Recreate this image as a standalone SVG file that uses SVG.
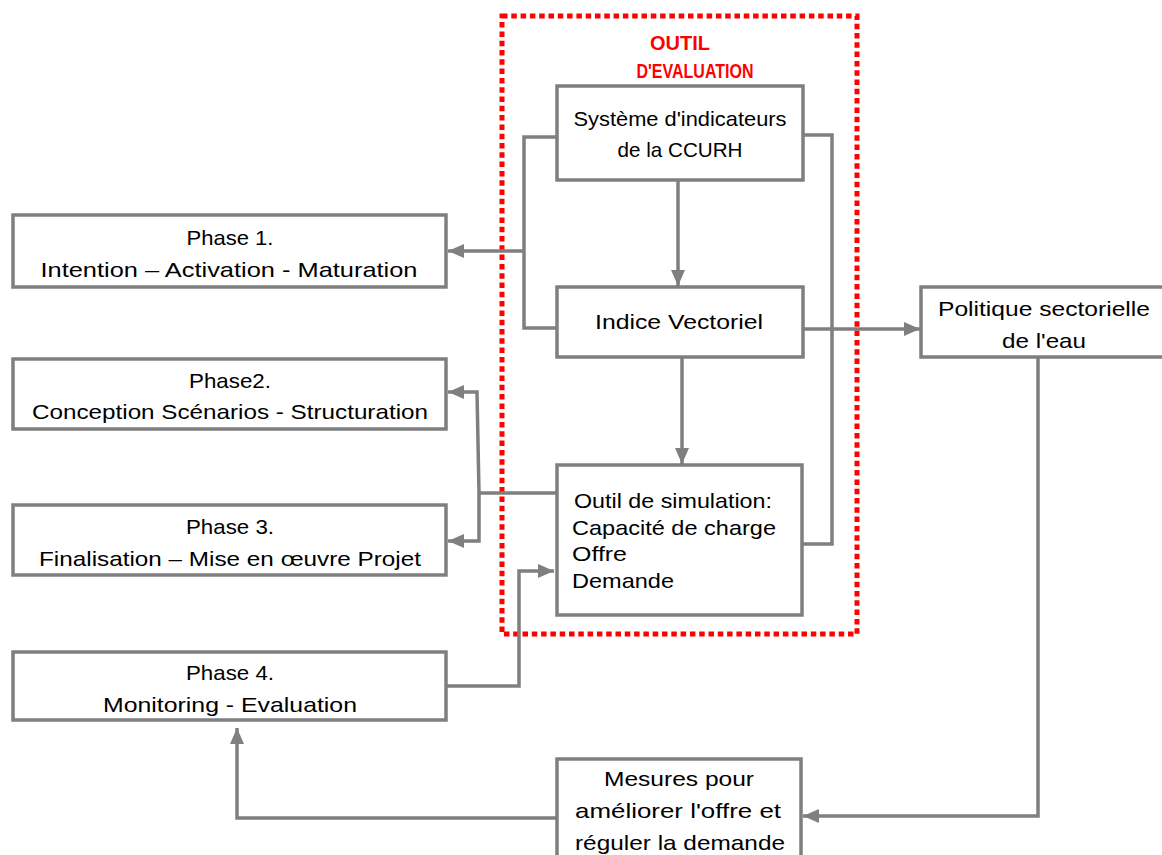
<svg xmlns="http://www.w3.org/2000/svg" width="1162" height="855" viewBox="0 0 1162 855">
<style>
.box{fill:#fff;stroke:#7f7f7f;stroke-width:3.5}
.t{font-family:"Liberation Sans",Arial,sans-serif;font-size:21px;fill:#000;text-anchor:middle}
.tl{font-family:"Liberation Sans",Arial,sans-serif;font-size:21px;fill:#000}
.c{fill:none;stroke:#7f7f7f;stroke-width:3.5}
.red{font-family:"Liberation Sans",Arial,sans-serif;font-size:20px;font-weight:bold;fill:#ff0000;text-anchor:middle}
</style>
<defs>
<marker id="ah" markerUnits="userSpaceOnUse" markerWidth="17" markerHeight="17" viewBox="0 0 17 17" refX="16" refY="8.5" orient="auto">
<path d="M0,1.5 L16,8.5 L0,15.5 Z" fill="#7f7f7f"/>
</marker>
</defs>
<rect width="1162" height="855" fill="#fff"/>
<g id="outil-frame">
<rect x="502" y="16" width="355" height="618" fill="none" stroke="#ff0000" stroke-width="5" stroke-dasharray="5.5 3.8"/>
<text class="red" x="680" y="50" textLength="60" lengthAdjust="spacingAndGlyphs">OUTIL</text>
<text class="red" x="695" y="78" textLength="117" lengthAdjust="spacingAndGlyphs">D'EVALUATION</text>
</g>
<g id="connectors">
<path class="c" d="M557,137 H524 V328 H557"/>
<path class="c" d="M524,251 H448" marker-end="url(#ah)"/>
<path class="c" d="M803,135 H832 V544 H801"/>
<path class="c" d="M678,180 V286" marker-end="url(#ah)"/>
<path class="c" d="M682,357 V464" marker-end="url(#ah)"/>
<path class="c" d="M803,329 H920" marker-end="url(#ah)"/>
<path class="c" d="M557,493 H479"/>
<path class="c" d="M479,493 L477,392 H448" marker-end="url(#ah)"/>
<path class="c" d="M479,493 V541 H448" marker-end="url(#ah)"/>
<path class="c" d="M446,686 H519 V571 H554" marker-end="url(#ah)"/>
<path class="c" d="M1038,357 V816 H803" marker-end="url(#ah)"/>
<path class="c" d="M557,818 H237 V728" marker-end="url(#ah)"/>
</g>
<g id="systeme">
<rect class="box" x="557" y="86" width="246" height="94"/>
<text class="t" x="680" y="126" font-size="19" textLength="213" lengthAdjust="spacingAndGlyphs">Système d'indicateurs</text>
<text class="t" x="680" y="157" font-size="19" textLength="125" lengthAdjust="spacingAndGlyphs">de la CCURH</text>
</g>
<g id="indice">
<rect class="box" x="557" y="287" width="246" height="70"/>
<text class="t" x="679" y="329" textLength="168" lengthAdjust="spacingAndGlyphs">Indice Vectoriel</text>
</g>
<g id="simulation">
<rect class="box" x="557" y="465" width="245" height="150"/>
<text class="tl" x="574" y="508" textLength="198" lengthAdjust="spacingAndGlyphs">Outil de simulation:</text>
<text class="tl" x="572" y="535" textLength="204" lengthAdjust="spacingAndGlyphs">Capacité de charge</text>
<text class="tl" x="572" y="561" textLength="55" lengthAdjust="spacingAndGlyphs">Offre</text>
<text class="tl" x="572" y="588" textLength="102" lengthAdjust="spacingAndGlyphs">Demande</text>
</g>
<g id="phase1">
<rect class="box" x="13" y="215" width="433" height="72"/>
<text class="t" x="230" y="245" textLength="87" lengthAdjust="spacingAndGlyphs">Phase 1.</text>
<text class="t" x="229" y="277" textLength="377" lengthAdjust="spacingAndGlyphs">Intention – Activation - Maturation</text>
</g>
<g id="phase2">
<rect class="box" x="13" y="359" width="433" height="70"/>
<text class="t" x="230" y="388" textLength="82" lengthAdjust="spacingAndGlyphs">Phase2.</text>
<text class="t" x="230" y="419" textLength="396" lengthAdjust="spacingAndGlyphs">Conception Scénarios - Structuration</text>
</g>
<g id="phase3">
<rect class="box" x="13" y="505" width="433" height="70"/>
<text class="t" x="230" y="534" textLength="88" lengthAdjust="spacingAndGlyphs">Phase 3.</text>
<text class="t" x="230" y="566" textLength="382" lengthAdjust="spacingAndGlyphs">Finalisation – Mise en œuvre Projet</text>
</g>
<g id="phase4">
<rect class="box" x="13" y="652" width="433" height="68"/>
<text class="t" x="230" y="680" textLength="88" lengthAdjust="spacingAndGlyphs">Phase 4.</text>
<text class="t" x="230" y="712" textLength="254" lengthAdjust="spacingAndGlyphs">Monitoring - Evaluation</text>
</g>
<g id="politique">
<rect class="box" x="921" y="287" width="260" height="70"/>
<text class="t" x="1044" y="316" textLength="212" lengthAdjust="spacingAndGlyphs">Politique sectorielle</text>
<text class="t" x="1044" y="348" textLength="84" lengthAdjust="spacingAndGlyphs">de l'eau</text>
</g>
<g id="mesures">
<rect class="box" x="557" y="759" width="244" height="120"/>
<text class="t" x="679" y="786" textLength="150" lengthAdjust="spacingAndGlyphs">Mesures pour</text>
<text class="t" x="678" y="818" textLength="206" lengthAdjust="spacingAndGlyphs">améliorer l'offre et</text>
<text class="t" x="680" y="850" textLength="210" lengthAdjust="spacingAndGlyphs">réguler la demande</text>
</g>
</svg>
